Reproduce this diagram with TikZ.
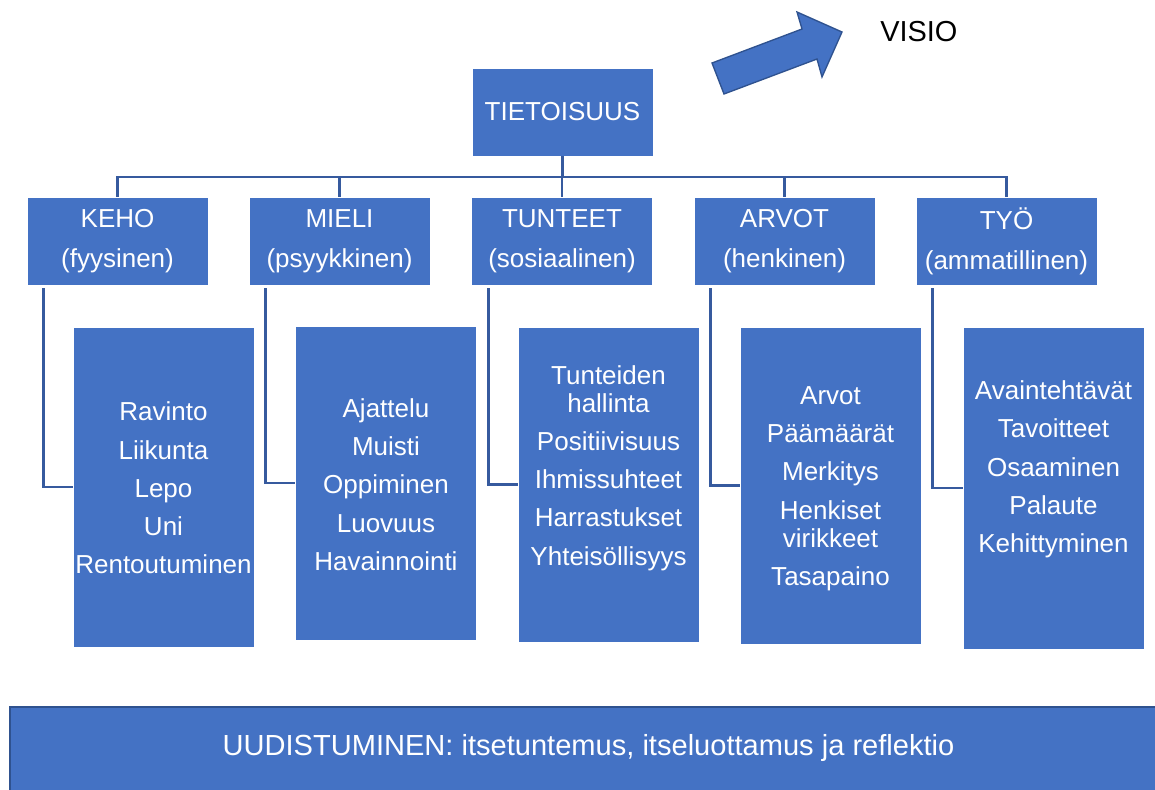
\documentclass[tikz,border=0pt]{standalone}
\usepackage{fontspec}
\setmainfont{Liberation Sans}
\usetikzlibrary{calc}
\definecolor{boxblue}{HTML}{4472C4}
\definecolor{lineblue}{HTML}{365A9E}
\definecolor{edgeblue}{HTML}{2F528F}
\begin{document}
\begin{tikzpicture}[x=0.75pt,y=-0.75pt,
  box/.style={fill=boxblue, draw=white, line width=0.6pt, minimum width=135.75pt,
    minimum height=66pt, inner sep=0pt, text=white, align=center,
    font=\fontsize{19.5}{30}\selectfont},
  tallbox/.style={fill=boxblue, draw=white, line width=0.6pt, minimum width=135.75pt,
    inner sep=0pt},
  itemtxt/.style={text=white, align=center, inner sep=0pt,
    font=\fontsize{19.5}{21}\selectfont},
  conn/.style={draw=lineblue, line width=2.2pt},
  bigarrow/.style={fill=boxblue, draw=edgeblue, line width=1pt, line join=miter},
  bar/.style={fill=boxblue, draw=edgeblue, line width=1.5pt}
]
\useasboundingbox (0,0) rectangle (1155,789);

% top
\node[box] (top) at (562.5,112) {TIETOISUUS};

% level-2
\node[box] (keho) at (117.5,241) {KEHO\\(fyysinen)};
\node[box] (mieli) at (339.5,241) {MIELI\\(psyykkinen)};
\node[box] (tunteet) at (562,241) {TUNTEET\\(sosiaalinen)};
\node[box] (arvot) at (784.5,241) {ARVOT\\(henkinen)};
\node[box] (tyo) at (1006.5,241) {TYÖ\\(ammatillinen)};

% inner boxes
\node[tallbox, minimum height=240pt] (kehoin) at (163.5,487) {};
\node[tallbox, minimum height=235.5pt] (mieliin) at (386,483) {};
\node[tallbox, minimum height=236.25pt] (tunteetin) at (608.5,484.5) {};
\node[tallbox, minimum height=237.75pt] (arvotin) at (830.5,485.5) {};
\node[tallbox, minimum height=241.5pt] (tyoin) at (1053.5,488) {};

\node[itemtxt] (kehot) at (163.5,488) {Ravinto\\[7.7pt]Liikunta\\[7.7pt]Lepo\\[7.7pt]Uni\\[7.7pt]Rentoutuminen};
\node[itemtxt] (mielit) at (386,484.5) {Ajattelu\\[7.7pt]Muisti\\[7.7pt]Oppiminen\\[7.7pt]Luovuus\\[7.7pt]Havainnointi};
\node[itemtxt] (tunteett) at (608.5,468) {Tunteiden\\hallinta\\[7.7pt]Positiivisuus\\[7.7pt]Ihmissuhteet\\[7.7pt]Harrastukset\\[7.7pt]Yhteisöllisyys};
\node[itemtxt] (arvott) at (830.5,488.5) {Arvot\\[7.7pt]Päämäärät\\[7.7pt]Merkitys\\[7.7pt]Henkiset\\virikkeet\\[7.7pt]Tasapaino};
\node[itemtxt] (tyot) at (1053.5,469.5) {Avaintehtävät\\[7.7pt]Tavoitteet\\[7.7pt]Osaaminen\\[7.7pt]Palaute\\[7.7pt]Kehittyminen};

% bus connectors
\coordinate (bus) at (562,177);
\draw[conn] (top.south) -- (top.south |- bus);
\draw[conn] (keho.north) -- (keho.north |- bus) -- (tyo.north |- bus) -- (tyo.north);
\draw[conn] (mieli.north) -- (mieli.north |- bus);
\draw[conn] (tunteet.north) -- (tunteet.north |- bus);
\draw[conn] (arvot.north) -- (arvot.north |- bus);

% elbow connectors
\draw[conn] ($(keho.south west)+(17,3)$) |- (kehoin.west);
\draw[conn] ($(mieli.south west)+(17,3)$) |- (mieliin.west);
\draw[conn] ($(tunteet.south west)+(17,3)$) |- (tunteetin.west);
\draw[conn] ($(arvot.south west)+(17,3)$) |- (arvotin.west);
\draw[conn] ($(tyo.south west)+(17,3)$) |- (tyoin.west);

% arrow and VISIO
\draw[bigarrow] (712,63) -- (802,29) -- (797,12) -- (842,32) -- (822,77) -- (817,59) -- (724,94) -- cycle;
\node[anchor=west, inner sep=0pt, font=\fontsize{21.7}{24}\selectfont] (visio) at (880,32) {VISIO};

% bottom bar
\path[bar] (10,707) rectangle (1170,805);
\node[text=white, inner sep=0pt, font=\fontsize{21.8}{24}\selectfont] (uud) at (588.5,747.5) {UUDISTUMINEN: itsetuntemus, itseluottamus ja reflektio};
\end{tikzpicture}
\end{document}
